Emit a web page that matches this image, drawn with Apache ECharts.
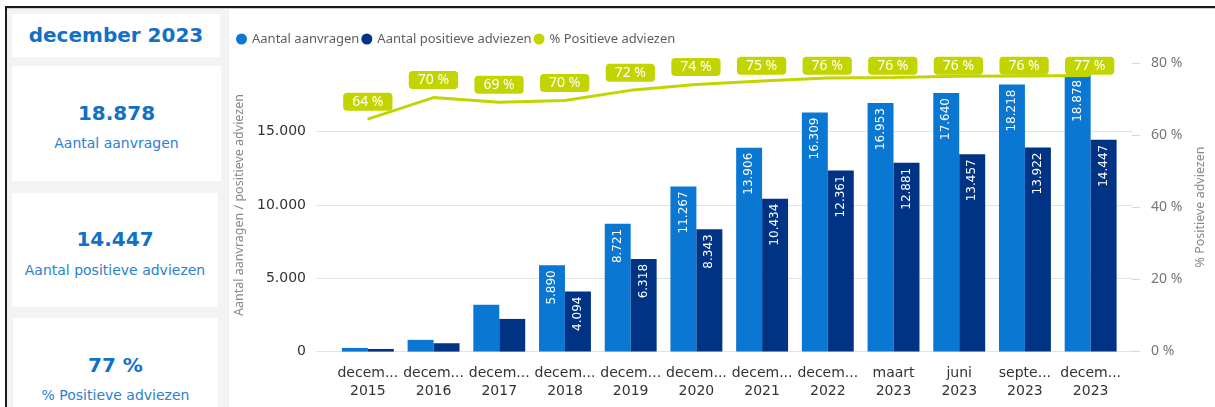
<!DOCTYPE html>
<html>
<head>
<meta charset="utf-8">
<script src="https://cdn.jsdelivr.net/npm/echarts@6/dist/echarts.min.js"></script>
<style>
  html, body { margin:0; padding:0; background:#fff; width:1215px; height:407px; overflow:hidden; }
  .abs { position:absolute; }
  #panel { left:7px; top:8px; width:222px; height:399px; background:#f3f3f3; }
  .card { position:absolute; background:#fff; }
  .kv { position:absolute; left:0; right:0; text-align:center; font-family:"DejaVu Sans", sans-serif; font-weight:bold; font-size:20px; color:#1170c8; height:24px; line-height:24px; white-space:nowrap; }
  .ks { position:absolute; left:0; right:0; text-align:center; font-family:"DejaVu Sans", sans-serif; font-size:14px; color:#2b80d2; height:18px; line-height:18px; white-space:nowrap; }
  #chart { left:0; top:0; width:1215px; height:407px; z-index:5; }
</style>
</head>
<body>
<div id="panel" class="abs"></div>
<div class="abs" style="left:5px;top:6px;width:1210px;height:2px;background:#1a1a1a;"></div>
<div class="abs" style="left:5px;top:8px;width:1210px;height:1px;background:#cfcfcf;"></div>
<div class="abs" style="left:5px;top:6px;width:2px;height:401px;background:#1a1a1a;"></div>

<div class="card" style="left:12px;top:14px;width:208px;height:43px;">
  <div class="kv" id="kTitle" style="top:9px;font-size:20px;"></div>
</div>
<div class="card" style="left:12px;top:66px;width:209px;height:115px;">
  <div class="kv" id="kA" style="top:35px;"></div>
  <div class="ks" style="top:68px;">Aantal aanvragen</div>
</div>
<div class="card" style="left:12px;top:193px;width:206px;height:114px;">
  <div class="kv" id="kP" style="top:34px;"></div>
  <div class="ks" style="top:68px;">Aantal positieve adviezen</div>
</div>
<div class="card" style="left:13px;top:318px;width:205px;height:89px;">
  <div class="kv" id="kPct" style="top:35px;"></div>
  <div class="ks" style="top:68px;">% Positieve adviezen</div>
</div>

<div id="chart" class="abs"></div>
<script>
// ---- data ----
const categories = ['december 2015','december 2016','december 2017','december 2018','december 2019','december 2020','december 2021','december 2022','maart 2023','juni 2023','september 2023','december 2023'];
const aanvragen = [250, 800, 3190, 5890, 8721, 11267, 13906, 16309, 16953, 17640, 18218, 18878];
const positief  = [180, 570, 2230, 4094, 6318, 8343, 10434, 12361, 12881, 13457, 13922, 14447];
const pctPositief = [64.4, 70.4, 69.1, 69.6, 72.4, 74.0, 75.0, 75.8, 76.0, 76.3, 76.4, 76.5];
const countAxisMax = 20000, countAxisStep = 5000;
const pctAxisMax = 80, pctAxisStep = 20;
const seriesNames = ['Aantal aanvragen', 'Aantal positieve adviezen', '% Positieve adviezen'];

function fmt(v){ return String(Math.round(v)).replace(/\B(?=(\d{3})+(?!\d))/g, '.'); }

const last = categories.length - 1;
document.getElementById('kTitle').textContent = categories[last];
document.getElementById('kA').textContent = fmt(aanvragen[last]);
document.getElementById('kP').textContent = fmt(positief[last]);
document.getElementById('kPct').textContent = Math.round(pctPositief[last]) + ' %';

const C_LIGHT = '#0a78d3', C_DARK = '#003384', C_LINE = '#c3d500';
const barLabel = {
  show: true, position: 'insideTop', rotate: 90, align: 'right', verticalAlign: 'middle',
  distance: 5, color: '#fff', fontFamily: 'DejaVu Sans', fontSize: 12,
  formatter: p => p.value >= 4000 ? fmt(p.value) : ''
};

const chart = echarts.init(document.getElementById('chart'), null, {renderer: 'canvas'});
chart.setOption({
  animation: false,
  backgroundColor: 'transparent',
  legend: {
    left: 231, top: 27, icon: 'circle', itemWidth: 11, itemHeight: 11, itemGap: 2,
    selectedMode: false,
    textStyle: { fontFamily: 'Noto Sans', fontSize: 13, color: '#605e5c', lineHeight: 14 },
    data: seriesNames
  },
  grid: [
    { left: 335, right: 91.5, top: 58.4, bottom: 55.4 },
    { left: 316, right: 82, top: 58.4, bottom: 55.4 },
    { left: 335, right: 91.5, top: 63, bottom: 56 }
  ],
  xAxis: [
    { type: 'category', gridIndex: 0, data: categories,
      axisLine: {show: false}, axisTick: {show: false},
      axisLabel: { margin: 13, fontFamily: 'DejaVu Sans', fontSize: 14, color: '#333', lineHeight: 18, interval: 0,
        formatter: v => { const i = v.lastIndexOf(' '); let m = v.slice(0, i); const y = v.slice(i + 1);
          if (m.length > 5) m = m.slice(0, 5) + '...'; return m + '\n' + y; } } },
    { type: 'value', gridIndex: 1, show: false },
    { type: 'category', gridIndex: 2, data: categories, show: false }
  ],
  yAxis: [
    { type: 'value', gridIndex: 0, min: 0, max: countAxisMax, show: false },
    { type: 'value', gridIndex: 1, min: 0, max: countAxisMax, interval: countAxisStep, position: 'left',
      axisLine: {show: false}, axisTick: {show: false},
      splitLine: { show: true, showMaxLine: false, lineStyle: { color: '#e3e3e3', width: 1 } },
      axisLabel: { margin: 10, showMaxLabel: false, fontFamily: 'DejaVu Sans', fontSize: 14, color: '#333', formatter: v => fmt(v) },
      name: 'Aantal aanvragen / positieve adviezen', nameLocation: 'middle', nameRotate: 90, nameGap: 70,
      nameTextStyle: { fontFamily: 'Noto Sans', fontSize: 12.5, color: '#8a8886' } },
    { type: 'value', gridIndex: 2, min: 0, max: pctAxisMax, interval: pctAxisStep, position: 'right', offset: 9.5,
      axisLine: {show: false},
      axisTick: { show: true, length: 8, lineStyle: { color: '#d6d6d6' } },
      splitLine: {show: false},
      axisLabel: { margin: 19, fontFamily: 'Noto Sans', fontSize: 14, color: '#777', formatter: v => v + ' %' },
      name: '% Positieve adviezen', nameLocation: 'middle', nameRotate: 90, nameGap: 62,
      nameTextStyle: { fontFamily: 'Noto Sans', fontSize: 12.5, color: '#8a8886' } }
  ],
  series: [
    { name: seriesNames[0], type: 'bar', xAxisIndex: 0, yAxisIndex: 0, data: aanvragen,
      barGap: '0%', barCategoryGap: '21%', itemStyle: { color: C_LIGHT }, label: barLabel },
    { name: seriesNames[1], type: 'bar', xAxisIndex: 0, yAxisIndex: 0, data: positief,
      barGap: '0%', barCategoryGap: '21%', itemStyle: { color: C_DARK }, label: barLabel },
    { name: seriesNames[2], type: 'line', xAxisIndex: 2, yAxisIndex: 2, data: pctPositief,
      symbol: 'circle', symbolSize: 1, showSymbol: true,
      lineStyle: { color: C_LINE, width: 3 }, itemStyle: { color: C_LINE }, z: 5,
      label: { show: true, position: 'top', distance: 8, color: '#fff', fontFamily: 'Noto Sans', fontSize: 14,
        backgroundColor: C_LINE, borderRadius: 4, padding: [2, 9, 2, 9], lineHeight: 14,
        formatter: p => Math.round(p.value) + ' %' },
      labelLayout: p => { const r = p.labelRect; const minY = 56.7; return r.y < minY ? { dy: minY - r.y } : {}; } }
  ]
});
</script>
</body>
</html>
